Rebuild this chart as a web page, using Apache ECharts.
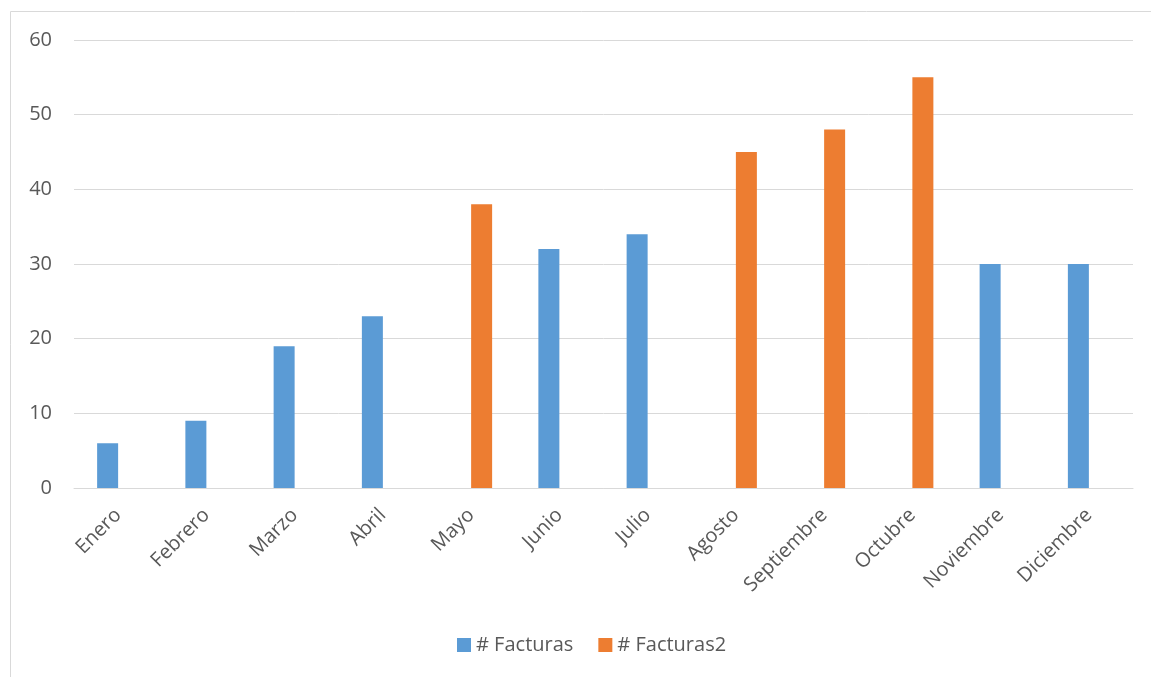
<!DOCTYPE html>
<html>
<head>
<meta charset="utf-8">
<script src="https://cdn.jsdelivr.net/npm/echarts@6/dist/echarts.min.js"></script>
<style>
  html, body { margin: 0; padding: 0; background: #fff; }
  #chart { width: 1151px; height: 677px; }
</style>
</head>
<body>
<div id="chart"></div>
<script>
// datos
var meses = ['Enero', 'Febrero', 'Marzo', 'Abril', 'Mayo', 'Junio', 'Julio', 'Agosto', 'Septiembre', 'Octubre', 'Noviembre', 'Diciembre'];
var facturas = [6, 9, 19, 23, null, 32, 34, null, null, null, 30, 30];
var facturas2 = [null, null, null, null, 38, null, null, 45, 48, 55, null, null];
var yTicks = [0, 10, 20, 30, 40, 50, 60];

var chart = echarts.init(document.getElementById('chart'));
var fuente = '"Open Sans", "Liberation Sans", sans-serif';

var option = {
  animation: false,
  textStyle: { fontFamily: fuente },
  graphic: [{
    type: 'rect',
    shape: { x: 10.5, y: 11.5, width: 1200, height: 700 },
    style: { fill: 'none', stroke: '#D9D9D9', lineWidth: 1 },
    silent: true
  }],
  grid: { left: 74, right: 18, top: 40, bottom: 189, containLabel: false },
  legend: {
    bottom: 17,
    left: 452,
    itemWidth: 14,
    itemHeight: 14,
    itemGap: 25,
    icon: 'rect',
    textStyle: { color: '#595959', fontSize: 20, fontFamily: fuente },
    data: ['# Facturas', '# Facturas2']
  },
  xAxis: {
    type: 'category',
    data: meses,
    axisLine: { lineStyle: { color: '#D9D9D9', width: 1 } },
    axisTick: { show: false },
    axisLabel: { rotate: 45, color: '#595959', fontSize: 20, margin: 24, interval: 0, fontFamily: fuente }
  },
  yAxis: {
    type: 'value',
    min: yTicks[0],
    max: yTicks[yTicks.length - 1],
    interval: 10,
    axisLine: { show: false },
    axisTick: { show: false },
    splitLine: { lineStyle: { color: '#D9D9D9', width: 1 } },
    axisLabel: { color: '#595959', fontSize: 20, margin: 22, fontFamily: fuente }
  },
  series: [{
    name: '# Facturas',
    type: 'bar',
    data: facturas,
    barWidth: 21,
    barGap: '0%',
    itemStyle: { color: '#5B9BD5' }
  }, {
    name: '# Facturas2',
    type: 'bar',
    data: facturas2,
    barWidth: 21,
    barGap: '0%',
    itemStyle: { color: '#ED7D31' }
  }]
};
chart.setOption(option);
</script>
</body>
</html>
